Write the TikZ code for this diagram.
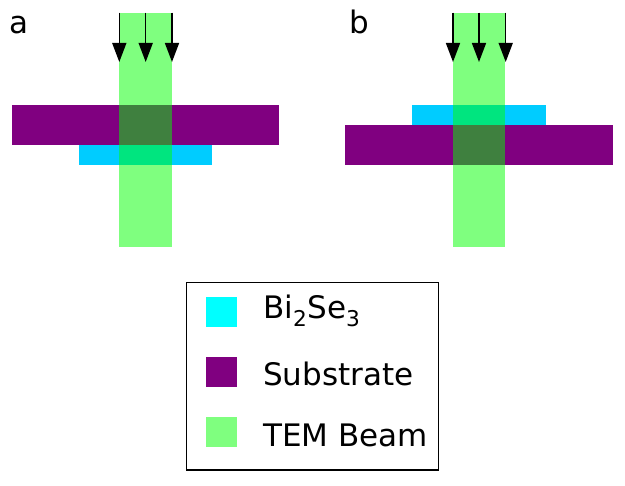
\documentclass[tikz,border=0pt]{standalone}
\usepackage{fontspec}
\setmainfont{DejaVu Sans}
\usetikzlibrary{arrows.meta}
\definecolor{bisecyan}{RGB}{0,204,255}
\definecolor{legcyan}{RGB}{0,255,255}
\definecolor{subpurple}{RGB}{128,0,128}
\definecolor{beamgreen}{RGB}{0,255,0}

\begin{document}
\begin{tikzpicture}[x=1pt, y=-1pt,
    sub/.style={fill=subpurple},
    film/.style={fill=bisecyan},
    beam/.style={fill=beamgreen, fill opacity=0.5},
    ray/.style={black, line width=1.5pt, -{Triangle[length=19pt, width=14pt]}},
    txt/.style={inner sep=0pt, anchor=base west, font=\fontsize{31}{37}\selectfont}]
    \useasboundingbox (0,0) rectangle (625,486);
    \node[txt] (lbla) at (9,34) {a};
    \fill[sub] (12.3,105) rectangle (279.3,145);
    \fill[film] (79,145) rectangle (212.3,165);
    \fill[beam] (119.3,12.7) rectangle (171.7,246.7);
    \draw[ray] (119.3,12.7) -- (119.3,62);
    \draw[ray] (145.7,12.7) -- (145.7,62);
    \draw[ray] (172,12.7) -- (172,62);
    \node[txt] (lblb) at (349,34) {b};
    \fill[film] (412.3,105) rectangle (545.7,125);
    \fill[sub] (345.3,125) rectangle (612.7,165);
    \fill[beam] (452.7,12.7) rectangle (505,246.7);
    \draw[ray] (453,12.7) -- (453,62);
    \draw[ray] (479,12.7) -- (479,62);
    \draw[ray] (505.7,12.7) -- (505.7,62);
    \draw[line width=1.5pt, black] (186.7,282.3) rectangle (438.3,470);
    \fill[legcyan] (206,296.7) rectangle (236.7,327.3);
    \fill[subpurple] (206,356.7) rectangle (236.7,387.3);
    \fill[beam] (206,416.7) rectangle (236.7,447.3);
    \node[txt] (bise) at (263,319) {Bi\textsubscript{2}Se\textsubscript{3}};
    \node[txt] (subs) at (263,386) {Substrate};
    \node[txt] (tem) at (263,447) {TEM Beam};
\end{tikzpicture}
\end{document}
